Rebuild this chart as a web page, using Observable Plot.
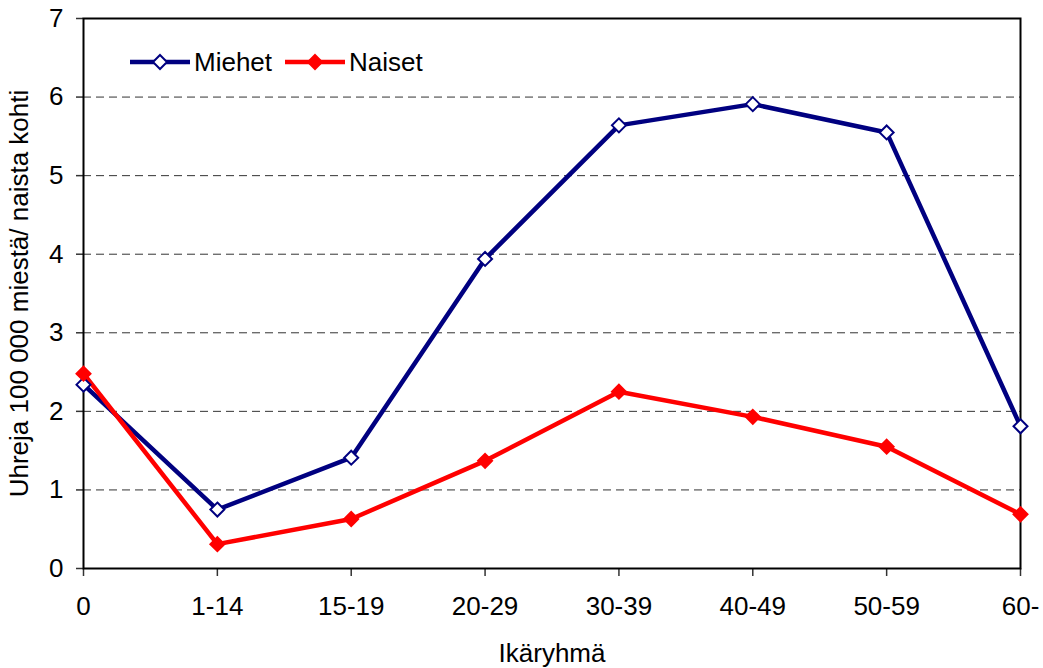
<!DOCTYPE html>
<html>
<head>
<meta charset="utf-8">
<script src="https://cdn.jsdelivr.net/npm/d3@7"></script>
<script src="https://cdn.jsdelivr.net/npm/@observablehq/plot@0.6"></script>
<style>
  html, body { margin: 0; padding: 0; background: #fff; overflow: hidden; }
  #wrap { position: relative; width: 1043px; height: 668px; font-family: "Liberation Sans", Arial, sans-serif; }
  #wrap > svg { display: block; max-width: none !important; }
  #legend { position: absolute; left: 130px; top: 47px; display: flex; align-items: center; height: 30px; line-height: 30px; font-size: 26px; color: #000; }
  .item { display: flex; align-items: center; margin-right: 13px; }
  .item svg { margin-right: 4px; display: block; }
</style>
</head>
<body>
<div id="wrap"><div id="legend"></div></div>
<script>
const categories = ["0", "1-14", "15-19", "20-29", "30-39", "40-49", "50-59", "60-"];
const miehet = [2.34, 0.75, 1.41, 3.94, 5.64, 5.91, 5.55, 1.81];
const naiset = [2.48, 0.31, 0.63, 1.37, 2.25, 1.93, 1.55, 0.69];
const seriesNames = ["Miehet", "Naiset"];
const seriesColors = ["#000080", "#ff0000"];
const seriesFills = ["#ffffff", "#ff0000"];
const yTicks = [0, 1, 2, 3, 4, 5, 6, 7];
const gridTicks = [1, 2, 3, 4, 5, 6];
const xTitle = "Ikäryhmä";
const yTitle = "Uhreja 100 000 miestä/ naista kohti";

const data = categories.flatMap((c, i) => [
  {age: c, value: miehet[i], series: seriesNames[0]},
  {age: c, value: naiset[i], series: seriesNames[1]}
]);

const chart = Plot.plot({
  width: 1043,
  height: 668,
  marginLeft: 83,
  marginRight: 23,
  marginTop: 18,
  marginBottom: 100,
  style: {fontFamily: "Liberation Sans, Arial, sans-serif", fontSize: "26px", background: "#fff", color: "#000"},
  x: {type: "point", domain: categories, padding: 0, round: false},
  y: {domain: [0, 7]},
  color: {domain: seriesNames, range: seriesColors},
  marks: [
    Plot.gridY(gridTicks, {stroke: "#333", strokeOpacity: 1, strokeWidth: 1, strokeDasharray: "8,5"}),
    Plot.axisY({ticks: yTicks, tickFormat: d3.format("d"), tickSize: 7, tickPadding: 13, stroke: "#333", strokeWidth: 1.5, label: yTitle, labelAnchor: "center", labelArrow: "none", labelOffset: 74, fontSize: 26}),
    Plot.axisX({tickSize: 8, tickPadding: 20, stroke: "#333", strokeWidth: 1.5, label: xTitle, labelAnchor: "center", labelArrow: "none", labelOffset: 93, fontSize: 26}),
    Plot.frame({stroke: "#000", strokeWidth: 2}),
    Plot.line(data, {x: "age", y: "value", z: "series", stroke: "series", strokeWidth: 4.5, strokeLinejoin: "round"}),
    Plot.dot(data, {x: "age", y: "value", symbol: "diamond2", r: 6.3,
      stroke: "series", strokeWidth: 2,
      fill: d => seriesFills[seriesNames.indexOf(d.series)]})
  ]
});
document.getElementById("wrap").prepend(chart);

const legend = d3.select("#legend");
seriesNames.forEach((name, i) => {
  const item = legend.append("div").attr("class", "item");
  const svg = item.append("svg").attr("width", 60).attr("height", 20);
  svg.append("line").attr("x1", 0).attr("x2", 60).attr("y1", 10).attr("y2", 10)
    .attr("stroke", seriesColors[i]).attr("stroke-width", 4.5);
  svg.append("path").attr("d", d3.symbol(d3.symbolDiamond2, Math.PI * 6.3 * 6.3)())
    .attr("transform", "translate(30,10)")
    .attr("fill", seriesFills[i]).attr("stroke", seriesColors[i]).attr("stroke-width", 2);
  item.append("span").text(name);
});
</script>
</body>
</html>
